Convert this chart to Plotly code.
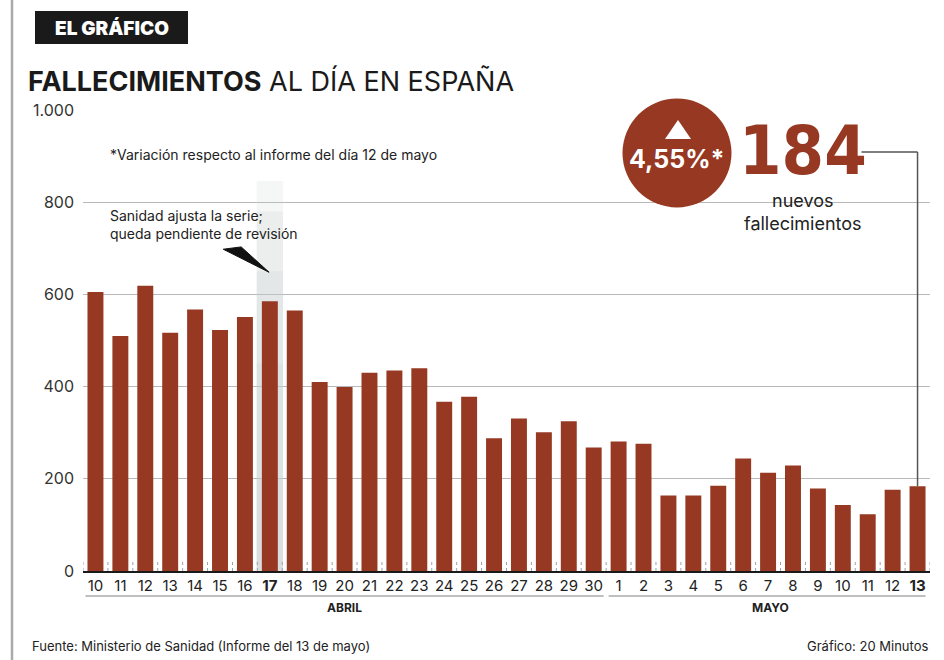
import plotly.graph_objects as go

# ---- data ----
day_labels = ["10", "11", "12", "13", "14", "15", "16", "17", "18", "19", "20",
              "21", "22", "23", "24", "25", "26", "27", "28", "29", "30",
              "1", "2", "3", "4", "5", "6", "7", "8", "9", "10", "11", "12", "13"]
deaths = [605, 510, 619, 517, 567, 523, 551, 585, 565, 410, 399,
          430, 435, 440, 367, 378, 288, 331, 301, 325, 268,
          281, 276, 164, 164, 185, 244, 213, 229, 179, 143, 123, 176, 184]
bold_days = [7, 33]
y_ticks = [0, 200, 400, 600, 800, 1000]
y_tick_text = ["0", "200", "400", "600", "800", "1.000"]
months = ["ABRIL", "MAYO"]
month_spans = [(0, 20), (21, 33)]
highlight_idx = 7

W, H = 944, 660
L, R, T, B = 83, 14, 110, 89
PW = W - L - R
PH = H - T - B

def px(x):
    return (x - L) / PW

def py(y):
    return (H - B - y) / PH

RED = "#963822"
FONT = "Inter, Roboto, sans-serif"
TXT = "#222222"

x = list(range(len(deaths)))
ticktext = [f"<b>{d}</b>" if i in bold_days else d for i, d in enumerate(day_labels)]

fig = go.Figure()
fig.add_trace(go.Bar(x=x, y=deaths, marker=dict(color=RED, line=dict(width=0)),
                     width=0.64, hoverinfo="x+y"))

shapes = []
# highlight band (gradient imitation)
for top, alpha in [(846, 0.18), (780, 0.18), (650, 0.2), (450, 0.2), (200, 0.15)]:
    shapes.append(dict(type="rect", xref="x", yref="y", x0=highlight_idx - 0.53,
                       x1=highlight_idx + 0.53, y0=0, y1=top, layer="between",
                       fillcolor=f"rgba(200,203,207,{alpha})", line=dict(width=0)))
# dotted separators at baseline
for i in range(len(deaths) + 1):
    shapes.append(dict(type="line", xref="x", yref="y", x0=i - 0.5, x1=i - 0.5,
                       y0=0, y1=24, layer="between",
                       line=dict(color="#a0a0a0", width=1, dash="dot")))
# month brackets
for (a, b), name in zip(month_spans, months):
    shapes.append(dict(type="line", xref="x", yref="paper", x0=a - 0.4, x1=b + 0.4 if b < 30 else b + 0.32,
                       y0=py(596), y1=py(596), line=dict(color="#aaaaaa", width=1.5)))
# left vertical rule
shapes.append(dict(type="line", xref="paper", yref="paper", x0=px(12), x1=px(12),
                   y0=py(0), y1=py(660), line=dict(color="#aaaaaa", width=2.5)))
# header box
shapes.append(dict(type="rect", xref="paper", yref="paper", x0=px(35), x1=px(188),
                   y0=py(44), y1=py(11), fillcolor="#1a1a1a", line=dict(width=0)))
# circle
shapes.append(dict(type="circle", xref="paper", yref="paper", x0=px(622.5), x1=px(731.5),
                   y0=py(207.5), y1=py(98.5), fillcolor=RED, line=dict(width=0)))
# white triangle in circle
shapes.append(dict(type="path", xref="paper", yref="paper",
                   path=f"M {px(665)} {py(139)} L {px(691)} {py(139)} L {px(678)} {py(120)} Z",
                   fillcolor="white", line=dict(width=0)))
# wedge arrow
shapes.append(dict(type="path", xref="x", yref="y",
                   path="M 5.13 698 L 5.85 703 L 6.97 648 Z",
                   fillcolor="#111111", line=dict(color="#111111", width=1)))
# connector line to last bar
last = len(deaths) - 1
conn_y = (H - B - 152) / PH * 1000
shapes.append(dict(type="line", xref="x", yref="y", x0=30.75, x1=last, y0=conn_y, y1=conn_y,
                   line=dict(color="#555555", width=1.5)))
shapes.append(dict(type="line", xref="x", yref="y", x0=last, x1=last, y0=deaths[-1], y1=conn_y,
                   line=dict(color="#555555", width=1.5)))

ann = []
def text(xp, yp, s, size, color=TXT, xanchor="left", weight=None, family=FONT, yanchor="middle"):
    f = dict(size=size, color=color, family=family)
    if weight:
        f["weight"] = weight
    ann.append(dict(xref="paper", yref="paper", x=px(xp), y=py(yp), text=s, showarrow=False,
                    xanchor=xanchor, yanchor=yanchor, font=f, align=xanchor if xanchor != "center" else "center"))

text(112, 28, "EL GRÁFICO", 19, color="white", xanchor="center", weight=900)
text(26, 82, "<b>FALLECIMIENTOS</b> AL DÍA EN ESPAÑA", 27, color="#1a1a1a")
text(108, 154, "*Variación respecto al informe del día 12 de mayo", 14)
text(108, 224, "Sanidad ajusta la serie;<br>queda pendiente de revisión", 14)
text(677, 159, "<b>4,55%*</b>", 25, color="white", xanchor="center")
text(803, 150, "<b>184</b>", 68, color=RED, xanchor="center",
     family="'Liberation Sans Narrow', 'DejaVu Sans Condensed', sans-serif")
text(803, 212, "nuevos<br>fallecimientos", 18, xanchor="center")
for (a, b), name in zip(month_spans, months):
    ann.append(dict(xref="x", yref="paper", x=(a + b) / 2 if name == "ABRIL" else (a + b) / 2 + 0.1,
                    y=py(607), text=f"<b>{name}</b>", showarrow=False,
                    xanchor="center", yanchor="middle",
                    font=dict(size=12, color=TXT, family=FONT)))
text(30, 646, "Fuente: Ministerio de Sanidad (Informe del 13 de mayo)", 13)
text(930, 646, "Gráfico: 20 Minutos", 13, xanchor="right")

fig.update_layout(
    width=W, height=H,
    margin=dict(l=L, r=R, t=T, b=B),
    paper_bgcolor="white", plot_bgcolor="white",
    showlegend=False,
    bargap=0.36,
    shapes=shapes, annotations=ann,
    xaxis=dict(range=[-0.5, len(deaths) - 0.5], tickvals=x, ticktext=ticktext,
               tickfont=dict(size=15, color=TXT, family=FONT), showgrid=False,
               showline=True, linecolor="#1a1a1a", linewidth=1.5, ticks="", zeroline=False,
               fixedrange=True),
    yaxis=dict(range=[0, 1000], tickvals=y_ticks, ticktext=y_tick_text,
               tickfont=dict(size=16, color="#333333", family=FONT), showgrid=True,
               gridcolor="#b8b8b8", gridwidth=1, zeroline=False, showline=False,
               ticks="", ticklabelstandoff=8, fixedrange=True),
)

fig.write_html("out.html", config={"displayModeBar": False},
               post_script="document.body.style.margin='0';")
